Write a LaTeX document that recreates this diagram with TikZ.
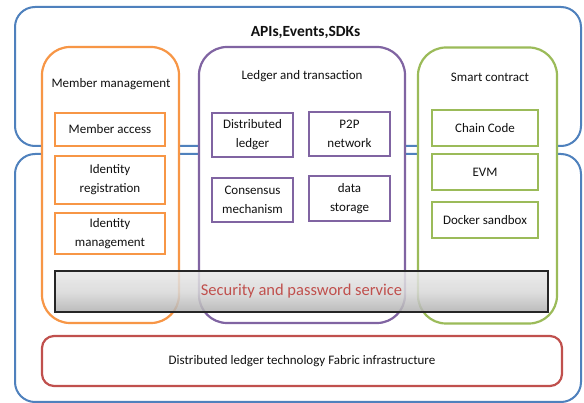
\documentclass[tikz,border=0pt]{standalone}
\usepackage{fontspec}
\setmainfont{Carlito}
\definecolor{oblue}{HTML}{4F81BD}
\definecolor{oorange}{HTML}{F79646}
\definecolor{opurple}{HTML}{8064A2}
\definecolor{ogreen}{HTML}{9BBB59}
\definecolor{ored}{HTML}{C0504D}
\definecolor{otext}{HTML}{111111}
\begin{document}
\begin{tikzpicture}[x=1pt,y=-1pt,
  layer/.style={draw=oblue, line width=2pt, rounded corners=20pt, fill=white},
  grp/.style={draw=#1, line width=2.2pt, rounded corners=28pt, fill=white},
  item/.style={draw=#1, line width=2.2pt, text=otext, font=\fontsize{13}{19}\selectfont, align=center, inner sep=0pt},
  grptitle/.style={text=otext, font=\fontsize{13}{16}\selectfont},
  base/.style={draw=ored, line width=2.2pt, rounded corners=12pt, text=otext, font=\fontsize{13}{16}\selectfont}
]
\useasboundingbox (0,0) rectangle (584,403);
\fill[white] (0,0) rectangle (584,403);
% layers
\node[layer, minimum width=566pt, minimum height=139pt] (top) at (298,76.5) {};
\node[layer, minimum width=566pt, minimum height=248pt] (bot) at (298,278) {};
\node[font=\bfseries\fontsize{15.5}{18}\selectfont, text=otext] (api) at (305.5,32) {APIs,Events,SDKs};
% groups
\node[grp=oorange, minimum width=137pt, minimum height=276pt] (mm) at (110.5,185) {};
\node[grp=opurple, minimum width=206pt, minimum height=276pt] (lt) at (302,185) {};
\node[grp=ogreen, minimum width=139pt, minimum height=276pt] (sc) at (487.5,185.5) {};
\node[grptitle] (mmt) at (111,84) {Member management};
\node[grptitle] (ltt) at (302,76) {Ledger and transaction};
\node[grptitle] (sct) at (490,77) {Smart contract};
% member management items
\node[item=oorange, minimum width=110pt, minimum height=33pt] (ma) at (110,129.5) {Member access};
\node[item=oorange, minimum width=110pt, minimum height=48pt] (ir) at (110,180) {Identity\\registration};
\node[item=oorange, minimum width=110pt, minimum height=41pt] (im) at (110,233.5) {Identity\\management};
% ledger items
\node[item=opurple, minimum width=81pt, minimum height=44pt] (dl) at (252.5,135) {Distributed\\ledger};
\node[item=opurple, minimum width=81pt, minimum height=44pt] (p2p) at (349.5,134) {P2P\\network};
\node[item=opurple, minimum width=81pt, minimum height=44pt] (cm) at (252.5,200) {Consensus\\mechanism};
\node[item=opurple, minimum width=81pt, minimum height=45pt] (ds) at (349.5,198.5) {data\\storage};
% smart contract items
\node[item=ogreen, minimum width=106pt, minimum height=36pt] (cc) at (485,128) {Chain Code};
\node[item=ogreen, minimum width=106pt, minimum height=36pt] (evm) at (485,172) {EVM};
\node[item=ogreen, minimum width=106pt, minimum height=36pt] (dk) at (485,220) {Docker sandbox};
% security bar
\node[draw=black!85, line width=1.4pt, top color=gray!18, bottom color=gray!62, middle color=gray!30, fill opacity=0.85, text opacity=1, minimum width=493pt, minimum height=41pt, text=ored, font=\fontsize{16.5}{20}\selectfont] (sec) at (301.5,291.5) {Security and password service};
% base
\node[base, minimum width=520pt, minimum height=50pt] (fab) at (302,361) {Distributed ledger technology Fabric infrastructure};
\end{tikzpicture}
\end{document}
